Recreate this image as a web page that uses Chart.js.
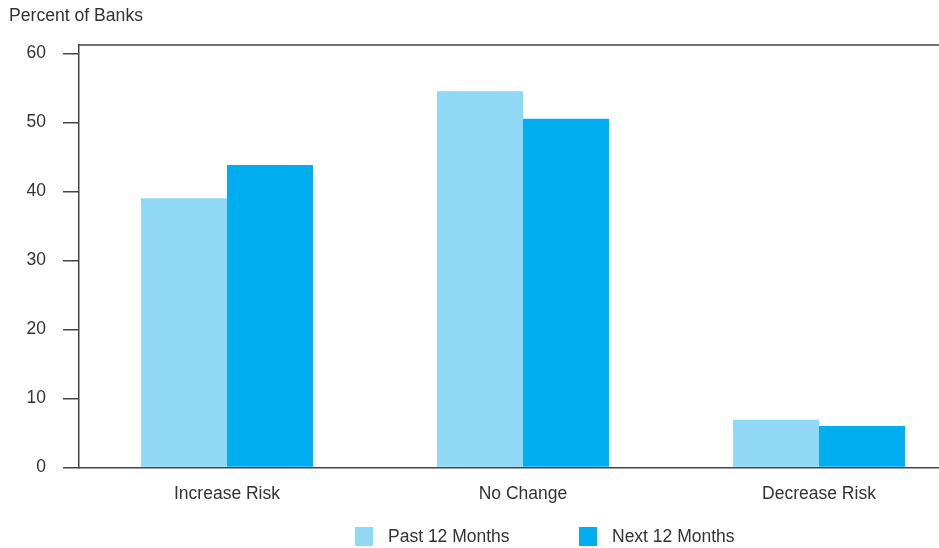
<!DOCTYPE html>
<html>
<head>
    <title>Percent of Banks</title>
    <script src="https://cdn.jsdelivr.net/npm/chart.js"></script>
    <style>
        body { margin: 0; overflow: hidden; background: #fff; font-family: "Liberation Sans", Arial, sans-serif; color: #333; }
        #wrap { position: relative; width: 967px; height: 548px; }
        #title { position: absolute; left: 9px; top: 7px; font-size: 17.6px; line-height: 17px; }
        #legend { position: absolute; left: 355px; top: 527px; display: flex; }
        .item { width: 224px; height: 19px; display: flex; align-items: center; font-size: 17.5px; }
        .box { width: 18px; height: 19px; margin-right: 15px; }
    </style>
</head>
<body>
    <div id="wrap">
        <canvas id="chart" width="967" height="548"></canvas>
        <div id="title">Percent of Banks</div>
        <div id="legend"></div>
    </div>

    <script>
        const categories = ['Increase Risk', 'No Change', 'Decrease Risk'];
        const seriesNames = ['Past 12 Months', 'Next 12 Months'];
        const past12 = [39.0, 54.5, 6.9];
        const next12 = [43.8, 50.5, 6.0];
        const yMax = 61.2;
        const yStep = 10;

        const textColor = '#333';
        const axisColor = '#444';
        const tickFont = { family: '"Liberation Sans", Arial, sans-serif', size: 17.5 };

        // line along the top of the plot area
        const topLine = {
            id: 'topLine',
            afterDatasetsDraw(chart) {
                const { ctx, chartArea } = chart;
                ctx.save();
                ctx.strokeStyle = axisColor;
                ctx.lineWidth = 1.5;
                ctx.beginPath();
                ctx.moveTo(chartArea.left, chartArea.top);
                ctx.lineTo(chartArea.right, chartArea.top);
                ctx.stroke();
                ctx.restore();
            }
        };

        const ctx = document.getElementById('chart').getContext('2d');
        const chart = new Chart(ctx, {
            type: 'bar',
            data: {
                labels: categories,
                datasets: [
                    { label: seriesNames[0], data: past12, backgroundColor: '#8fd8f6' },
                    { label: seriesNames[1], data: next12, backgroundColor: '#00aeef' }
                ]
            },
            options: {
                responsive: false,
                animation: false,
                layout: { padding: { top: 45, right: 0, bottom: 0, left: 0 } },
                datasets: { bar: { barPercentage: 1, categoryPercentage: 0.581 } },
                plugins: {
                    legend: { display: false },
                    tooltip: { enabled: false }
                },
                scales: {
                    x: {
                        grid: { display: false, drawTicks: false },
                        border: { color: axisColor, width: 1.5, z: 1 },
                        ticks: { color: textColor, font: tickFont, padding: 16 },
                        afterFit: scale => { scale.height = 80.5; }
                    },
                    y: {
                        min: 0,
                        max: yMax,
                        ticks: { stepSize: yStep, includeBounds: false, color: textColor, font: tickFont, padding: 17 },
                        grid: { drawOnChartArea: false, tickLength: 16, color: axisColor, lineWidth: 1.5 },
                        border: { color: axisColor, width: 1.5 },
                        afterFit: scale => { scale.width = 79; }
                    }
                }
            },
            plugins: [topLine]
        });

        // html legend from the datasets
        const legend = document.getElementById('legend');
        chart.data.datasets.forEach(ds => {
            const item = document.createElement('div');
            item.className = 'item';
            const box = document.createElement('span');
            box.className = 'box';
            box.style.background = ds.backgroundColor;
            item.appendChild(box);
            item.appendChild(document.createTextNode(ds.label));
            legend.appendChild(item);
        });
    </script>
</body>
</html>
